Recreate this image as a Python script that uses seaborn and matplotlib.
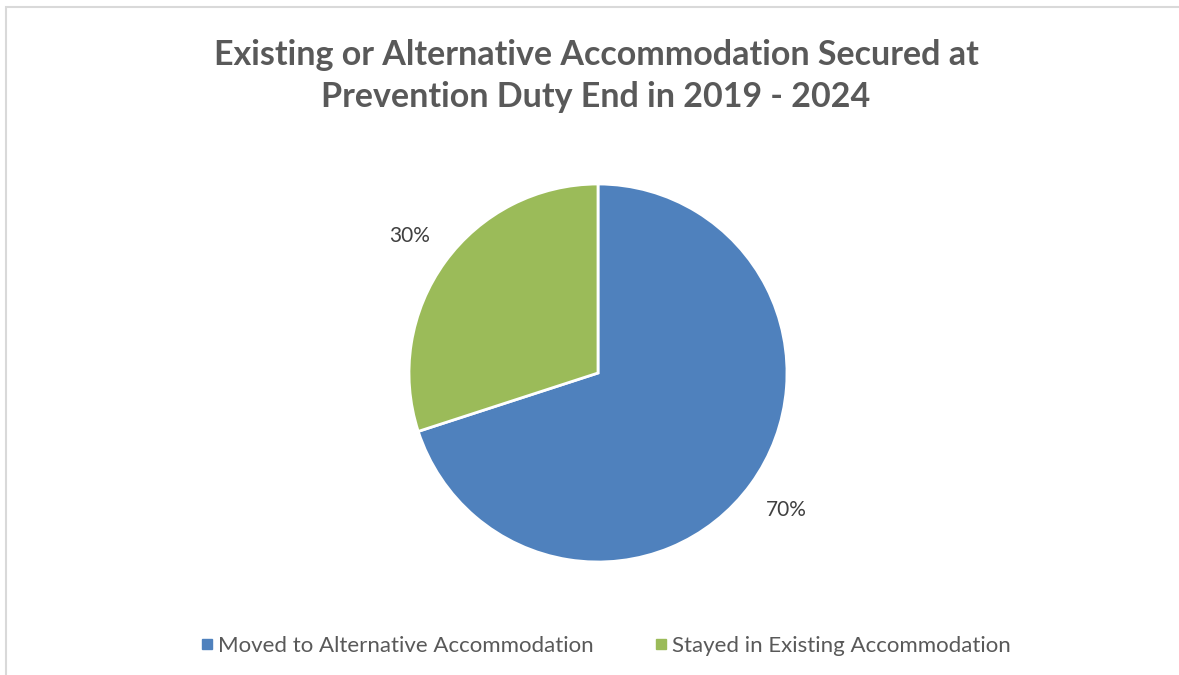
import matplotlib
matplotlib.use("Agg")
import matplotlib.pyplot as plt
import seaborn as sns
from matplotlib.patches import Rectangle
from matplotlib.lines import Line2D

sns.set_theme(style="white")
plt.rcParams['font.family'] = ['Lato', 'DejaVu Sans']

categories = ["Moved to Alternative Accommodation", "Stayed in Existing Accommodation"]
values = [70, 30]
colors = ["#4F81BD", "#9BBB59"]
title = "Existing or Alternative Accommodation Secured at\nPrevention Duty End in 2019 - 2024"

fig = plt.figure(figsize=(11.79, 6.75), dpi=100)
fig.patch.set_facecolor("white")
# outer chart frame (partially cropped)
fig.add_artist(Rectangle((6/1179, -0.05), 1.1, (675-7)/675 + 0.05, transform=fig.transFigure,
                         fill=False, edgecolor="#D9D9D9", linewidth=1.5))

cx, cy, r = 598/1179, 1 - 373/675, 189
ax = fig.add_axes([cx - r/1179, cy - r/675, 2*r/1179, 2*r/675])
wedges, texts = ax.pie(values, colors=colors, startangle=90, counterclock=False,
                       labels=[f"{v}%" for v in values], labeldistance=1.23,
                       wedgeprops=dict(edgecolor="white", linewidth=2),
                       textprops=dict(color="#404040", fontsize=15))
for t in texts:
    t.set_ha("center")
    t.set_va("center")
ax.set_aspect("equal")
ax.set_xlim(-1, 1)
ax.set_ylim(-1, 1)
ax.axis("off")

fig.text(596/1179, 1 - 76/675, title, ha="center", va="center", fontsize=24.5,
         fontweight="bold", color="#595959", linespacing=1.4)

handles = [Line2D([0], [0], marker="s", linestyle="", markersize=6.5,
                  markerfacecolor=c, markeredgecolor=c) for c in colors]
fig.legend(handles, categories, loc="center", bbox_to_anchor=(605.5/1179, 1 - 646/675),
           ncol=2, frameon=False, fontsize=16, labelcolor="#595959",
           handletextpad=0.2, columnspacing=2.7, handlelength=0.6)

fig.savefig("out.png", dpi=100, facecolor="white")
